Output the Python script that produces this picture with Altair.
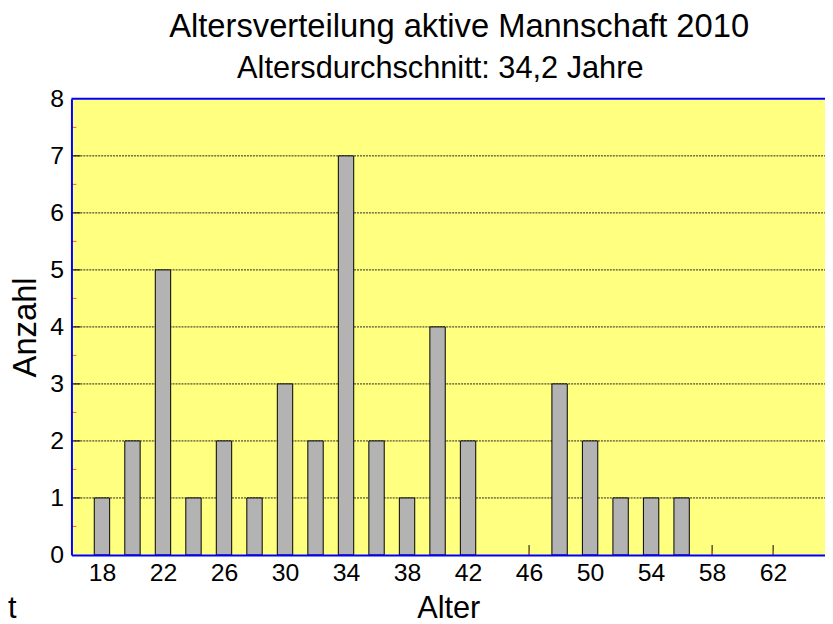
import altair as alt
import pandas as pd

# ---- data ----
ages = [18, 20, 22, 24, 26, 28, 30, 32, 34, 36, 38, 40, 42, 44, 46, 48, 50, 52, 54, 56]
counts = [1, 2, 5, 1, 2, 1, 3, 2, 7, 2, 1, 4, 2, 0, 0, 3, 2, 1, 1, 1]
x_ticks = [18, 22, 26, 30, 34, 38, 42, 46, 50, 54, 58, 62]
y_ticks = [0, 1, 2, 3, 4, 5, 6, 7, 8]
y_minor = [0.5, 1.5, 2.5, 3.5, 4.5, 5.5, 6.5, 7.5]
title_line1 = "Altersverteilung aktive Mannschaft 2010"
title_line2 = "Altersdurchschnitt: 34,2 Jahre"
x_title = "Alter"
y_title = "Anzahl"

W, H = 760, 460
FONT = "Liberation Sans"
BLUE = "#0000ff"
RED = "#ff5a3c"

df = pd.DataFrame({"Alter": ages, "Anzahl": counts})
df_xt = pd.DataFrame({"Alter": x_ticks})
df_yt = pd.DataFrame({"Anzahl": [v for v in y_ticks if 0 < v < 8]})
df_ym = pd.DataFrame({"Anzahl": y_minor})
df_top = pd.DataFrame({"Anzahl": [8]})

xscale = alt.Scale(domain=[16, 65.4], nice=False, zero=False, padding=0)
yscale = alt.Scale(domain=[0, 8], nice=False, zero=False, padding=0)

x_axis = alt.Axis(values=x_ticks, title=x_title, grid=False, ticks=False,
                  domainColor=BLUE, domainWidth=2, labelFontSize=25, labelFont=FONT,
                  labelColor="black", labelPadding=6, titleFont=FONT, titleFontSize=31,
                  titleFontWeight="normal", titleColor="black", titlePadding=8,
                  labelFlush=False, labelOverlap=False, zindex=1)
y_axis = alt.Axis(values=y_ticks, title=y_title, grid=False, ticks=False,
                  domainColor=BLUE, domainWidth=2, labelFontSize=25, labelFont=FONT,
                  labelColor="black", labelPadding=8, titleFont=FONT, titleFontSize=33,
                  titleFontWeight="normal", titleColor="black", titlePadding=7,
                  labelFlush=False, labelOverlap=False, zindex=1)


def X():
    return alt.X("Alter:Q", scale=xscale, axis=x_axis)


def Y():
    return alt.Y("Anzahl:Q", scale=yscale, axis=y_axis)


grid = alt.Chart(df_yt).mark_rule(color="#222222", strokeWidth=1, strokeDash=[2, 1]).encode(
    y=Y(), x=alt.value(0), x2=alt.value(W))

ytick_major = alt.Chart(df_yt).mark_rule(color="black", strokeWidth=1).encode(
    y=Y(), x=alt.value(0), x2=alt.value(9))
ytick_minor = alt.Chart(df_ym).mark_rule(color=RED, strokeWidth=1).encode(
    y=Y(), x=alt.value(0), x2=alt.value(5))

xtick_major = alt.Chart(df_xt).mark_rule(color="black", strokeWidth=1).encode(
    x=X(), y=alt.value(H), y2=alt.value(H - 10))
xtick_minor = alt.Chart(df_xt).mark_rule(color=RED, strokeWidth=1).encode(
    x=X(), y=alt.value(H), y2=alt.value(H - 4))

bars = alt.Chart(df).transform_filter(alt.datum.Anzahl > 0).mark_bar(
    size=15.5, color="#b3b3b3", stroke="black", strokeWidth=1).encode(
    x=X(), y=Y())

top_line = alt.Chart(df_top).mark_rule(color=BLUE, strokeWidth=2).encode(
    y=Y(), x=alt.value(0), x2=alt.value(W))

t1 = alt.Chart(pd.DataFrame({"t": [title_line1]})).mark_text(
    font=FONT, fontSize=33, align="center", baseline="alphabetic", color="black").encode(
    text="t:N", x=alt.value(391), y=alt.value(-62))
t2 = alt.Chart(pd.DataFrame({"t": [title_line2]})).mark_text(
    font=FONT, fontSize=31, align="center", baseline="alphabetic", color="black").encode(
    text="t:N", x=alt.value(372), y=alt.value(-21))
stray = alt.Chart(pd.DataFrame({"t": ["t"]})).mark_text(
    font=FONT, fontSize=31, align="left", baseline="alphabetic", color="black").encode(
    text="t:N", x=alt.value(-64), y=alt.value(524))

chart = alt.layer(grid, ytick_major, ytick_minor, xtick_major, xtick_minor, bars,
                  top_line, t1, t2, stray).properties(
    width=W, height=H,
    autosize=alt.AutoSizeParams(type="none"),
    padding={"left": 64, "top": 89, "right": 0, "bottom": 67},
    background="white",
).configure_view(fill="#ffff80", stroke="transparent")

chart.save("out.html", embed_options={"renderer": "svg", "actions": False})
